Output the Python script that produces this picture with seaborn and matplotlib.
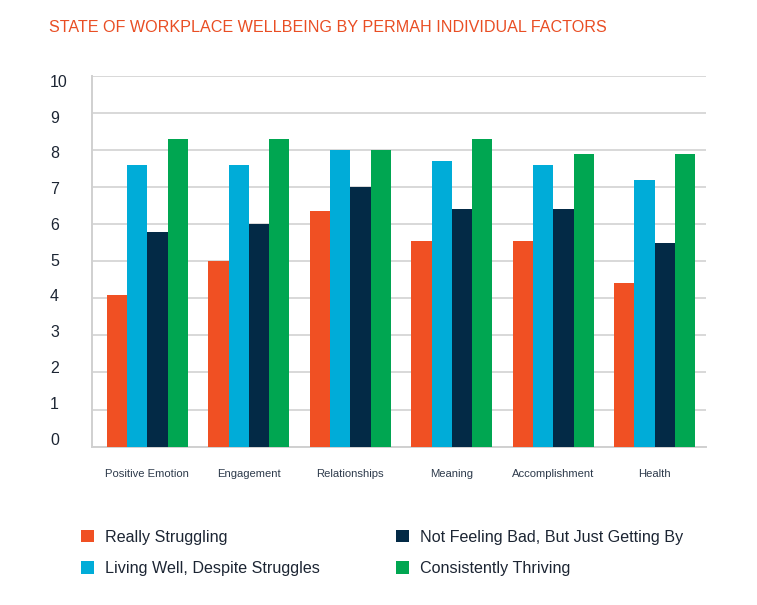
import matplotlib
matplotlib.use("Agg")
import matplotlib.pyplot as plt
import seaborn as sns
import pandas as pd
from matplotlib.patches import Patch

categories = ["Positive Emotion", "Engagement", "Relationships", "Meaning", "Accomplishment", "Health"]
series_names = ["Really Struggling", "Living Well, Despite Struggles",
                "Not Feeling Bad, But Just Getting By", "Consistently Thriving"]
really_struggling = [4.1, 5.0, 6.35, 5.55, 5.55, 4.4]
living_well = [7.6, 7.6, 8.0, 7.7, 7.6, 7.2]
not_feeling_bad = [5.8, 6.0, 7.0, 6.4, 6.4, 5.5]
consistently_thriving = [8.3, 8.3, 8.0, 8.3, 7.9, 7.9]
y_ticks = [0, 1, 2, 3, 4, 5, 6, 7, 8, 9, 10]
title = "STATE OF WORKPLACE WELLBEING BY PERMAH INDIVIDUAL FACTORS"

colors = ["#F05023", "#00ACD8", "#032A46", "#00A651"]
series_values = [really_struggling, living_well, not_feeling_bad, consistently_thriving]

rows = []
for name, vals in zip(series_names, series_values):
    for c, v in zip(categories, vals):
        rows.append({"Factor": c, "Group": name, "Score": v})
df = pd.DataFrame(rows)

sns.set_theme(style="white")
plt.rcParams["font.family"] = ["Liberation Sans", "DejaVu Sans"]

W, H = 757, 605
fig = plt.figure(figsize=(W / 100, H / 100), dpi=100)
L, R, T, B = 92, 706, 75.7, 446.7
ax = fig.add_axes([L / W, 1 - B / H, (R - L) / W, (B - T) / H])

sns.barplot(data=df, x="Factor", y="Score", hue="Group", order=categories,
            hue_order=series_names, palette=colors, width=0.8, saturation=1,
            ax=ax, legend=False, errorbar=None, zorder=3)
for p in ax.patches:
    p.set_linewidth(0)

ax.set_ylim(0, 10)
ax.set_xlim(-0.546, 5.505)
ax.set_yticks(y_ticks)
ax.set_yticklabels([])
ax.tick_params(axis="y", length=0)
ax.yaxis.grid(True, color="#D8D8D8", linewidth=1.4, zorder=0)
ax.set_axisbelow(True)
ax.set_xlabel("")
ax.set_ylabel("")
for s in ["top", "right"]:
    ax.spines[s].set_visible(False)
for s in ["left", "bottom"]:
    ax.spines[s].set_color("#D0D0D0")
    ax.spines[s].set_linewidth(1.4)

ax.tick_params(axis="x", length=0, pad=16, labelsize=8.1, labelcolor="#2E3B4C")

# y labels (slightly compressed spacing as in the reference)
ytrans = ax.get_yaxis_transform()
for v in y_ticks:
    ax.text((50 - L) / (R - L), 0.18 + v * 0.964, str(v), transform=ytrans,
            ha="left", va="center", fontsize=11.5, color="#1C2533")

fig.text(49 / W, 1 - 27 / H, title, ha="left", va="center", fontsize=11.65,
         color="#E94E24")

handles = [Patch(facecolor=c, edgecolor="none") for c in colors]
leg = fig.legend(handles, series_names, ncol=2, loc="upper left",
                 bbox_to_anchor=(76 / W, 1 - 525 / H), frameon=False,
                 fontsize=11.6, handlelength=0.8, handleheight=0.8,
                 handletextpad=0.72, columnspacing=4.7, labelspacing=1.0,
                 borderaxespad=0, borderpad=0.3)
for t in leg.get_texts():
    t.set_color("#1C2533")

fig.savefig("out.png", dpi=100)
